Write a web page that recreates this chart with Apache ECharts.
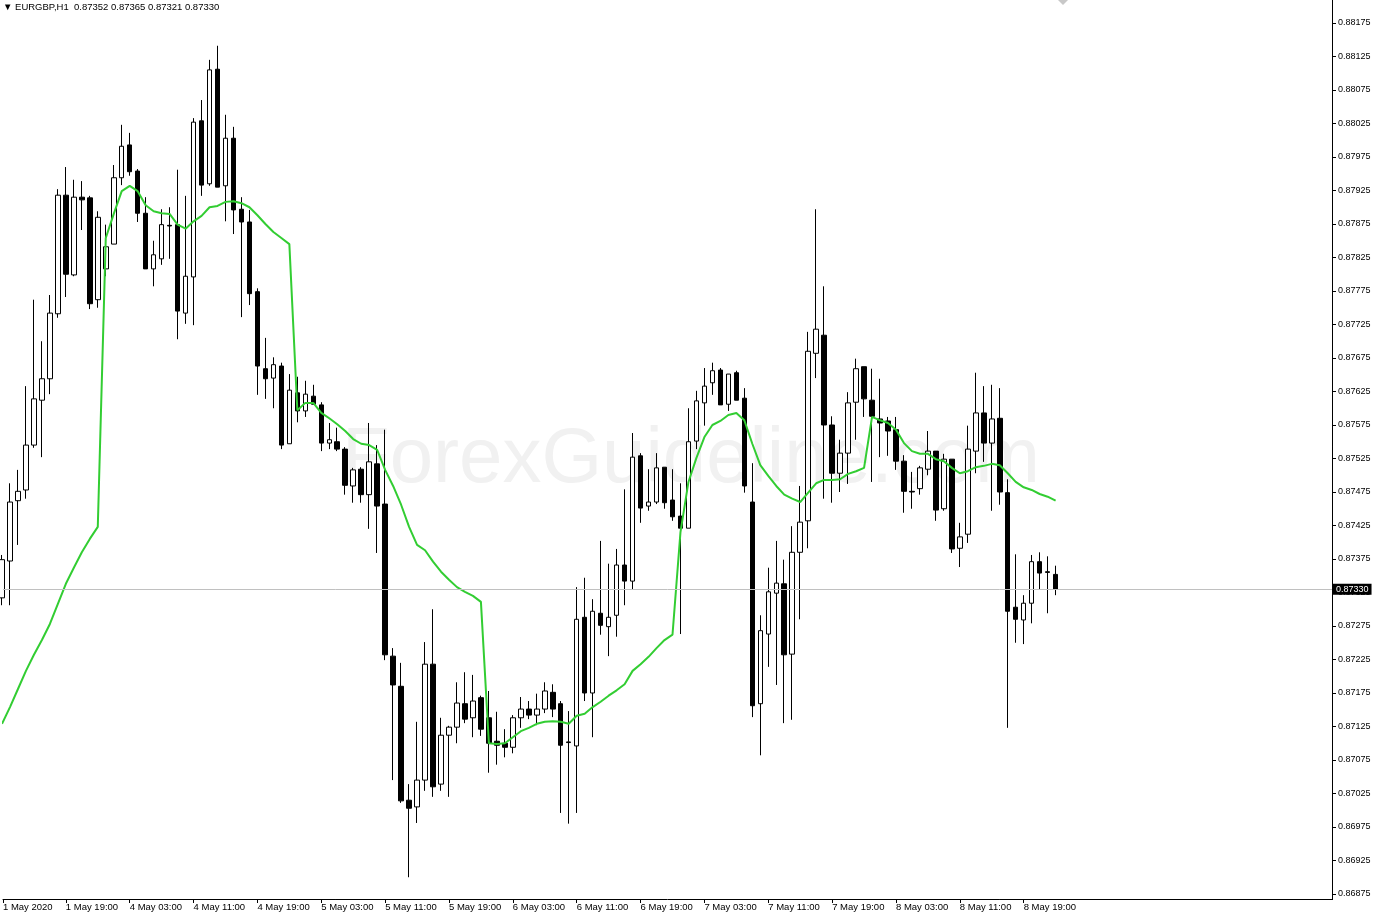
<!DOCTYPE html>
<html>
<head>
<meta charset="utf-8">
<script src="https://cdn.jsdelivr.net/npm/echarts@6/dist/echarts.min.js"></script>
<style>
html,body{margin:0;padding:0;background:#fff;}
#chart{width:1376px;height:918px;}
</style>
</head>
<body>
<div id="chart"></div>
<script>
// ---- data (EURGBP H1, bars from 1 May 2020 11:00 to 8 May 2020 23:00) ----
const opens = [0.87317,0.87372,0.87462,0.87478,0.87545,0.87612,0.87644,0.87741,0.87918,0.87799,
0.87915,0.87914,0.87762,0.87808,0.87845,0.87944,0.87993,0.87954,0.87891,0.87808,
0.87823,0.87873,0.87874,0.87742,0.87796,0.88029,0.87935,0.88106,0.87932,0.88003,
0.87897,0.87878,0.87774,0.87659,0.87645,0.87663,0.87547,0.87623,0.87596,0.87618,
0.87605,0.87548,0.87550,0.87539,0.87484,0.87509,0.87471,0.87517,0.87457,0.87230,
0.87185,0.87015,0.87005,0.87045,0.87218,0.87039,0.87112,0.87124,0.87159,0.87138,
0.87168,0.87138,0.87103,0.87100,0.87094,0.87138,0.87151,0.87142,0.87151,0.87176,
0.87159,0.87102,0.87096,0.87288,0.87175,0.87294,0.87274,0.87291,0.87366,0.87342,
0.87529,0.87454,0.87460,0.87512,0.87463,0.87439,0.87421,0.87551,0.87608,0.87638,
0.87657,0.87606,0.87653,0.87615,0.87460,0.87159,0.87263,0.87324,0.87338,0.87233,
0.87385,0.87432,0.87682,0.87709,0.87575,0.87503,0.87533,0.87609,0.87662,0.87612,
0.87584,0.87581,0.87568,0.87521,0.87476,0.87480,0.87509,0.87536,0.87450,0.87524,
0.87391,0.87412,0.87536,0.87593,0.87548,0.87585,0.87474,0.87303,0.87284,0.87309,
0.87371,0.87356,0.87352];
const highs = [0.87381,0.87488,0.87508,0.87633,0.87762,0.87700,0.87769,0.87927,0.87960,0.87941,
0.87939,0.87917,0.87894,0.87874,0.87963,0.88023,0.88011,0.87957,0.87915,0.87850,
0.87897,0.87900,0.87956,0.87917,0.88033,0.88060,0.88120,0.88141,0.88038,0.88020,
0.87915,0.87896,0.87779,0.87705,0.87676,0.87668,0.87651,0.87647,0.87641,0.87635,
0.87609,0.87578,0.87571,0.87542,0.87511,0.87512,0.87578,0.87545,0.87568,0.87242,
0.87220,0.87039,0.87132,0.87251,0.87300,0.87138,0.87126,0.87191,0.87206,0.87202,
0.87171,0.87178,0.87147,0.87121,0.87142,0.87169,0.87163,0.87174,0.87191,0.87188,
0.87163,0.87148,0.87333,0.87347,0.87315,0.87402,0.87368,0.87390,0.87479,0.87563,
0.87533,0.87509,0.87533,0.87512,0.87509,0.87488,0.87600,0.87626,0.87660,0.87668,
0.87660,0.87651,0.87656,0.87630,0.87518,0.87291,0.87362,0.87402,0.87374,0.87424,
0.87484,0.87714,0.87897,0.87782,0.87588,0.87553,0.87624,0.87674,0.87662,0.87659,
0.87644,0.87587,0.87587,0.87530,0.87505,0.87514,0.87566,0.87536,0.87532,0.87524,
0.87429,0.87574,0.87653,0.87633,0.87635,0.87630,0.87494,0.87382,0.87321,0.87381,
0.87385,0.87379,0.87365];
const lows = [0.87306,0.87306,0.87396,0.87465,0.87541,0.87527,0.87621,0.87735,0.87766,0.87797,
0.87866,0.87748,0.87750,0.87797,0.87845,0.87933,0.87947,0.87878,0.87808,0.87782,
0.87814,0.87823,0.87703,0.87726,0.87724,0.87917,0.87932,0.87930,0.87879,0.87860,
0.87736,0.87754,0.87620,0.87614,0.87600,0.87539,0.87547,0.87579,0.87587,0.87606,
0.87536,0.87539,0.87536,0.87471,0.87459,0.87459,0.87420,0.87384,0.87224,0.87045,
0.87011,0.86900,0.86981,0.87029,0.87020,0.87029,0.87020,0.87100,0.87130,0.87109,
0.87111,0.87056,0.87068,0.87079,0.87085,0.87123,0.87136,0.87127,0.87145,0.87139,
0.86996,0.86980,0.86996,0.87163,0.87109,0.87262,0.87230,0.87259,0.87306,0.87330,
0.87429,0.87447,0.87457,0.87450,0.87432,0.87263,0.87421,0.87539,0.87574,0.87620,
0.87605,0.87596,0.87612,0.87474,0.87139,0.87082,0.87214,0.87187,0.87130,0.87135,
0.87285,0.87391,0.87645,0.87465,0.87459,0.87475,0.87487,0.87553,0.87587,0.87490,
0.87527,0.87529,0.87508,0.87444,0.87450,0.87471,0.87500,0.87432,0.87447,0.87384,
0.87363,0.87399,0.87503,0.87520,0.87447,0.87456,0.87123,0.87250,0.87248,0.87279,
0.87330,0.87294,0.87321];
const closes = [0.87374,0.87460,0.87476,0.87545,0.87614,0.87644,0.87742,0.87918,0.87800,0.87915,
0.87911,0.87756,0.87885,0.87841,0.87944,0.87991,0.87953,0.87891,0.87808,0.87829,
0.87874,0.87872,0.87745,0.87797,0.88027,0.87933,0.88105,0.87930,0.88003,0.87896,
0.87878,0.87771,0.87663,0.87644,0.87665,0.87545,0.87627,0.87596,0.87621,0.87606,
0.87548,0.87553,0.87539,0.87485,0.87508,0.87471,0.87520,0.87454,0.87232,0.87187,
0.87014,0.87003,0.87045,0.87218,0.87035,0.87112,0.87124,0.87160,0.87136,0.87163,
0.87121,0.87100,0.87097,0.87094,0.87138,0.87151,0.87142,0.87151,0.87178,0.87151,
0.87097,0.87101,0.87285,0.87175,0.87297,0.87276,0.87288,0.87366,0.87342,0.87527,
0.87451,0.87460,0.87511,0.87459,0.87438,0.87421,0.87550,0.87611,0.87633,0.87656,
0.87605,0.87651,0.87612,0.87484,0.87156,0.87268,0.87326,0.87339,0.87232,0.87385,
0.87430,0.87685,0.87718,0.87575,0.87503,0.87533,0.87608,0.87659,0.87614,0.87588,
0.87578,0.87566,0.87521,0.87476,0.87475,0.87511,0.87536,0.87448,0.87524,0.87390,
0.87408,0.87539,0.87593,0.87548,0.87584,0.87475,0.87297,0.87285,0.87309,0.87371,
0.87354,0.87355,0.87330];
const indicator = [0.87129,0.87154,0.87181,0.87208,0.87232,0.87254,0.87278,0.87308,0.87338,0.87362,
0.87385,0.87405,0.87423,0.87854,0.87890,0.87924,0.87932,0.87924,0.87903,0.87894,
0.87891,0.87890,0.87874,0.87868,0.87879,0.87887,0.87900,0.87902,0.87908,0.87909,
0.87906,0.87900,0.87888,0.87875,0.87863,0.87854,0.87845,0.87597,0.87608,0.87608,
0.87593,0.87585,0.87576,0.87566,0.87554,0.87547,0.87545,0.87538,0.87508,0.87484,
0.87456,0.87423,0.87396,0.87388,0.87371,0.87356,0.87344,0.87333,0.87326,0.87320,
0.87311,0.87100,0.87099,0.87100,0.87109,0.87118,0.87123,0.87129,0.87132,0.87133,
0.87132,0.87129,0.87141,0.87144,0.87154,0.87162,0.87171,0.87179,0.87188,0.87208,
0.87218,0.87229,0.87242,0.87254,0.87262,0.87415,0.87490,0.87526,0.87557,0.87575,
0.87581,0.87590,0.87593,0.87582,0.87547,0.87515,0.87499,0.87484,0.87471,0.87465,
0.87460,0.87474,0.87488,0.87493,0.87493,0.87494,0.87502,0.87506,0.87511,0.87587,
0.87582,0.87578,0.87568,0.87548,0.87536,0.87532,0.87532,0.87524,0.87521,0.87511,
0.87503,0.87506,0.87512,0.87514,0.87517,0.87515,0.87503,0.87490,0.87482,0.87478,
0.87472,0.87468,0.87462];
const xTickLabels = ['1 May 2020','1 May 19:00','4 May 03:00','4 May 11:00','4 May 19:00',
'5 May 03:00','5 May 11:00','5 May 19:00','6 May 03:00','6 May 11:00','6 May 19:00',
'7 May 03:00','7 May 11:00','7 May 19:00','8 May 03:00','8 May 11:00','8 May 19:00'];
const firstBar = -1;         // bar number of the first (partly hidden) bar
const barsPerLabel = 8;
const xMin = -0.875, xMax = 165.625;   // visible bar range incl. empty right shift
const yMin = 0.86875, yMax = 0.882093, yStep = 0.0005;
const lastPrice = 0.87330;
const headerText = '\u25BC EURGBP,H1  0.87352 0.87365 0.87321 0.87330';

// ---- build series from the arrays ----
const barNo = opens.map((_, i) => firstBar + i);
const candleData = opens.map((o, i) => [barNo[i], o, closes[i], lows[i], highs[i]]);
const lineData = indicator.map((v, i) => [barNo[i], v]);
const tickBars = xTickLabels.map((_, j) => Math.max(xMin, firstBar + j * barsPerLabel));
const labelOf = (v) => {
  const j = Math.round((v - firstBar) / barsPerLabel);
  return xTickLabels[j] || '';
};

const FONT = '"Liberation Sans", Arial, sans-serif';
const chart = echarts.init(document.getElementById('chart'), null, {renderer: 'canvas'});
chart.setOption({
  animation: false,
  backgroundColor: '#ffffff',
  title: {
    text: headerText, left: 3, top: 2, padding: 0,
    textStyle: {fontSize: 9.5, fontWeight: 'normal', color: '#000', fontFamily: FONT}
  },
  grid: {left: 0, right: 44, top: 0, bottom: 24, containLabel: false},
  xAxis: {
    type: 'value', min: xMin, max: xMax, offset: 5,
    axisLine: {show: true, onZero: false, lineStyle: {color: '#000', width: 1}},
    axisTick: {show: true, length: 4, customValues: tickBars, lineStyle: {color: '#000'}},
    axisLabel: {
      customValues: tickBars, formatter: labelOf,
      align: 'left', margin: 3, fontSize: 9.5, color: '#000', fontFamily: FONT,
      hideOverlap: false, showMinLabel: true, showMaxLabel: true
    },
    splitLine: {show: false}
  },
  yAxis: {
    type: 'value', position: 'right', min: yMin, max: yMax, interval: yStep,
    axisLine: {show: true, onZero: false, lineStyle: {color: '#000', width: 1}},
    axisTick: {show: true, length: 4, lineStyle: {color: '#000'}},
    axisLabel: {showMaxLabel: false, formatter: (v) => v.toFixed(5), margin: 6,
      fontSize: 9, color: '#000', fontFamily: FONT},
    splitLine: {show: false}
  },
  graphic: [
    {type: 'text', z: -10, silent: true,
     style: {text: 'ForexGuideline.com', x: 691, y: 460, textAlign: 'center', textVerticalAlign: 'middle',
       fontSize: 78, fontFamily: FONT, fill: '#f1f1f1'}},
    {type: 'line', silent: true, shape: {x1: 1332.5, y1: 894, x2: 1332.5, y2: 900},
     style: {stroke: '#000', lineWidth: 1}},
    {type: 'polygon', silent: true, shape: {points: [[1058, 0], [1068, 0], [1063, 5]]},
     style: {fill: '#c8c8c8'}}
  ],
  series: [
    {
      type: 'line', data: [], z: 1, silent: true,
      markLine: {
        silent: true, symbol: ['none', 'none'], animation: false, precision: 5,
        lineStyle: {color: '#c0c0c0', type: 'solid', width: 1},
        label: {show: true, position: 'end', distance: 1, formatter: lastPrice.toFixed(5),
          backgroundColor: '#000', color: '#fff', fontSize: 9, fontFamily: FONT, padding: [1, 3, 1, 3]},
        data: [{yAxis: lastPrice}]
      }
    },
    {
      type: 'candlestick', data: candleData, barWidth: 5, z: 3,
      encode: {x: 0, y: [1, 2, 3, 4]},
      itemStyle: {color: '#ffffff', color0: '#000000', borderColor: '#000000',
        borderColor0: '#000000', borderColorDoji: '#000000', borderWidth: 1}
    },
    {
      type: 'line', data: lineData, symbol: 'none', smooth: false, z: 4,
      lineStyle: {color: '#32cd32', width: 2}
    }
  ]
});
</script>
</body>
</html>
